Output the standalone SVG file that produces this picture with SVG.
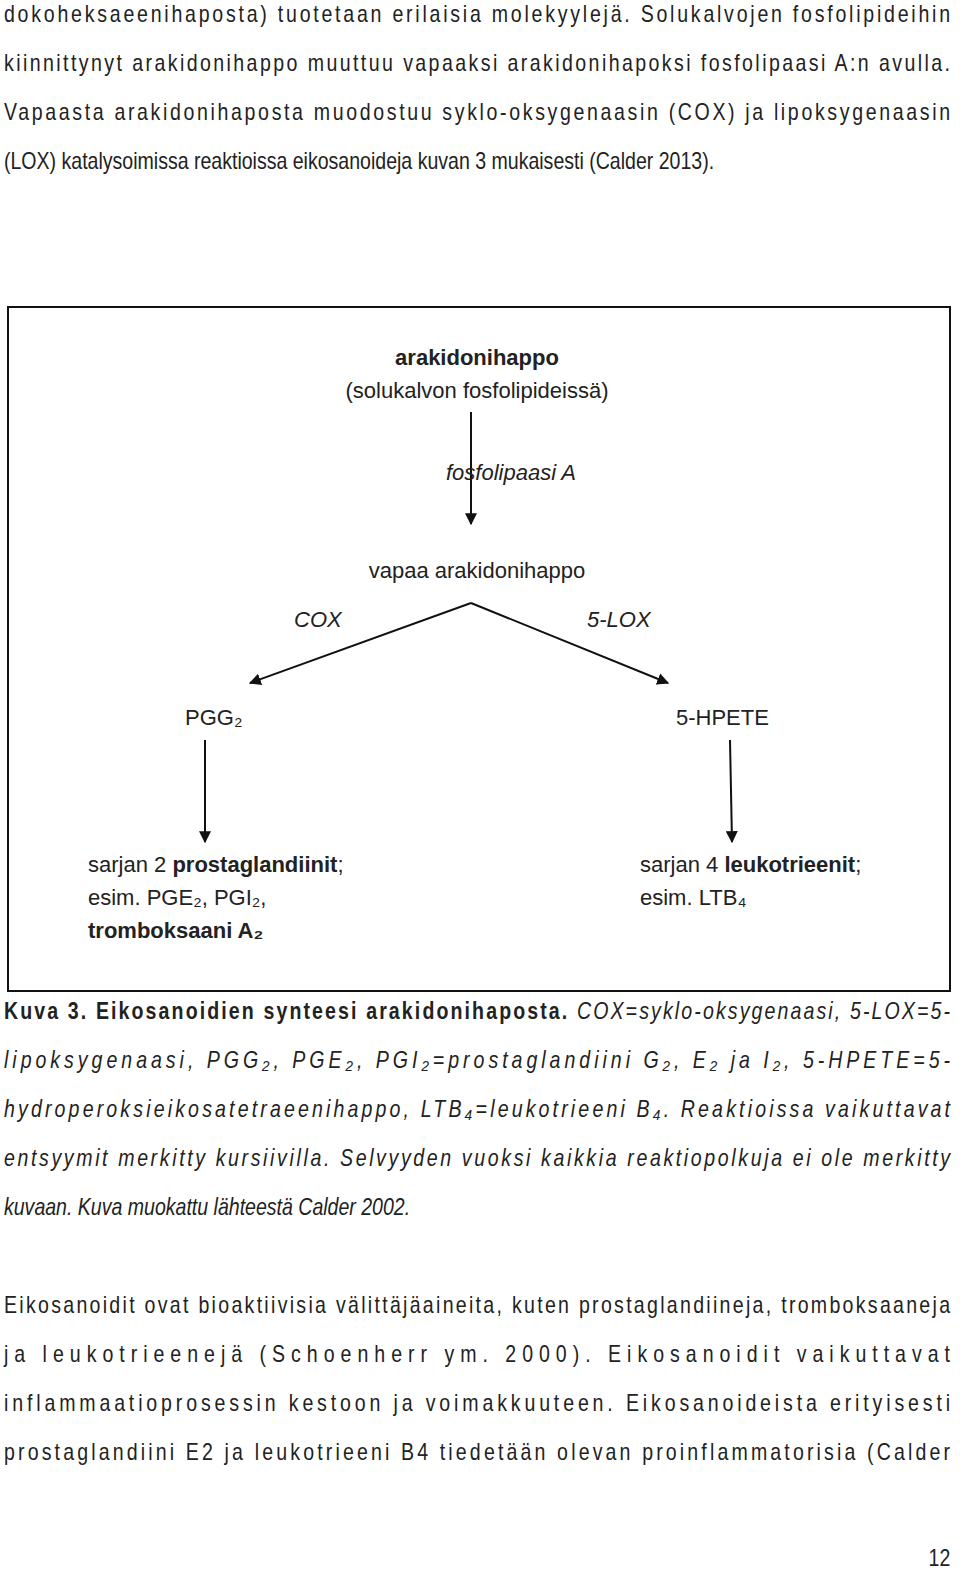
<svg xmlns="http://www.w3.org/2000/svg" width="960" height="1576" viewBox="0 0 960 1576">
<style>
text{font-family:"Liberation Sans",Arial,sans-serif;font-size:22px;fill:#222}
.p text{font-size:23px}
.b{font-weight:bold}.i{font-style:italic}
.c{text-anchor:middle}
.ln{stroke:#111;stroke-width:2;fill:none}
</style>
<defs><marker id="ah" viewBox="0 0 10 10" refX="9" refY="5" markerWidth="6" markerHeight="6" orient="auto"><path d="M0,0L10,5L0,10z" fill="#111"/></marker></defs>
<rect width="960" height="1576" fill="#fff"/>
<g id="bodytop" class="p" transform="scale(0.85,1)">
<text x="4.7" y="22" textLength="1113" lengthAdjust="spacing">dokoheksaeenihaposta) tuotetaan erilaisia molekyylejä. Solukalvojen fosfolipideihin</text>
<text x="4.7" y="71" textLength="1113" lengthAdjust="spacing">kiinnittynyt arakidonihappo muuttuu vapaaksi arakidonihapoksi fosfolipaasi A:n avulla.</text>
<text x="4.7" y="120" textLength="1113" lengthAdjust="spacing">Vapaasta arakidonihaposta muodostuu syklo-oksygenaasin (COX) ja lipoksygenaasin</text>
<text x="4.7" y="169">(LOX) katalysoimissa reaktioissa eikosanoideja kuvan 3 mukaisesti (Calder 2013).</text>
</g>
<rect x="8" y="307" width="942" height="684" class="ln"/>
<g id="connectors">
<line x1="471" y1="412" x2="471" y2="524" class="ln" marker-end="url(#ah)"/>
<line x1="471" y1="603" x2="250" y2="683" class="ln" marker-end="url(#ah)"/>
<line x1="471" y1="603" x2="668" y2="683" class="ln" marker-end="url(#ah)"/>
<line x1="205" y1="740" x2="205" y2="842" class="ln" marker-end="url(#ah)"/>
<line x1="730" y1="740" x2="732" y2="842" class="ln" marker-end="url(#ah)"/>
</g>
<g id="n1"><text x="477" y="365" class="c b">arakidonihappo</text><text x="477" y="398" class="c">(solukalvon fosfolipideissä)</text></g>
<g id="e1"><text x="511" y="480" class="c i">fosfolipaasi A</text></g>
<g id="n2"><text x="477" y="578" class="c">vapaa arakidonihappo</text></g>
<g id="e2"><text x="294" y="627" class="i">COX</text></g>
<g id="e3"><text x="587" y="627" class="i">5-LOX</text></g>
<g id="n3"><text x="185" y="725">PGG₂</text></g>
<g id="n4"><text x="676" y="725">5-HPETE</text></g>
<g id="n5"><text x="88" y="872">sarjan 2 <tspan class="b">prostaglandiinit</tspan>;</text><text x="88" y="905">esim. PGE₂, PGI₂,</text><text x="88" y="938" class="b">tromboksaani A₂</text></g>
<g id="n6"><text x="640" y="872">sarjan 4 <tspan class="b">leukotrieenit</tspan>;</text><text x="640" y="905">esim. LTB₄</text></g>
<g id="caption" class="p" transform="scale(0.85,1)">
<text x="4.7" y="1019" textLength="1113" lengthAdjust="spacing"><tspan class="b">Kuva 3. Eikosanoidien synteesi arakidonihaposta.</tspan><tspan class="i"> COX=syklo-oksygenaasi, 5-LOX=5-</tspan></text>
<text x="4.7" y="1068" class="i" textLength="1113" lengthAdjust="spacing">lipoksygenaasi, PGG₂, PGE₂, PGI₂=prostaglandiini G₂, E₂ ja I₂, 5-HPETE=5-</text>
<text x="4.7" y="1117" class="i" textLength="1113" lengthAdjust="spacing">hydroperoksieikosatetraeenihappo, LTB₄=leukotrieeni B₄. Reaktioissa vaikuttavat</text>
<text x="4.7" y="1166" class="i" textLength="1113" lengthAdjust="spacing">entsyymit merkitty kursiivilla. Selvyyden vuoksi kaikkia reaktiopolkuja ei ole merkitty</text>
<text x="4.7" y="1215" class="i">kuvaan. Kuva muokattu lähteestä Calder 2002.</text>
</g>
<g id="bodybottom" class="p" transform="scale(0.85,1)">
<text x="4.7" y="1313" textLength="1113" lengthAdjust="spacing">Eikosanoidit ovat bioaktiivisia välittäjäaineita, kuten prostaglandiineja, tromboksaaneja</text>
<text x="4.7" y="1362" textLength="1113" lengthAdjust="spacing">ja leukotrieenejä (Schoenherr ym. 2000). Eikosanoidit vaikuttavat</text>
<text x="4.7" y="1411" textLength="1113" lengthAdjust="spacing">inflammaatioprosessin kestoon ja voimakkuuteen. Eikosanoideista erityisesti</text>
<text x="4.7" y="1460" textLength="1113" lengthAdjust="spacing">prostaglandiini E2 ja leukotrieeni B4 tiedetään olevan proinflammatorisia (Calder</text>
<text x="1118" y="1566" text-anchor="end">12</text>
</g>
</svg>
